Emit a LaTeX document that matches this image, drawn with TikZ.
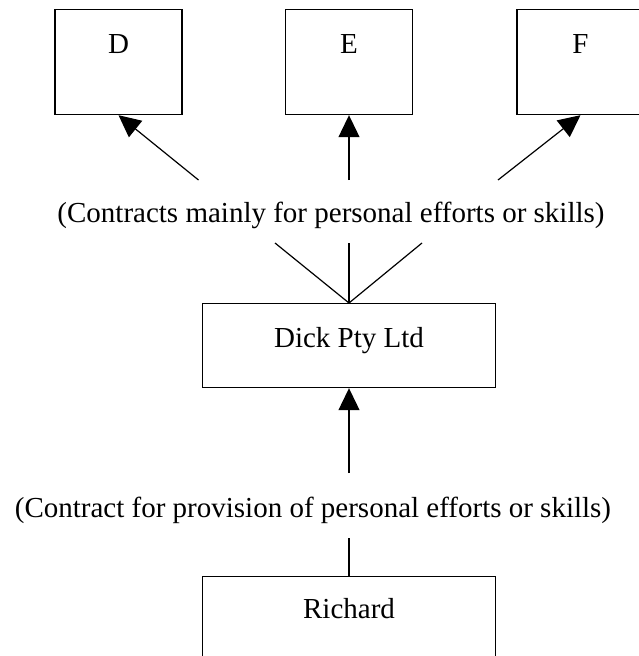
\documentclass[tikz,border=0pt]{standalone}
\usepackage{fontspec}
\setmainfont{Liberation Serif}
\usetikzlibrary{arrows.meta}

\begin{document}
\begin{tikzpicture}[x=1pt, y=-1pt,
  every node/.style={font=\fontsize{29}{34}\selectfont},
  party/.style={draw, line width=1.2pt, inner sep=0, anchor=north,
    minimum width=127pt, text height=44pt, text depth=61pt},
  firm/.style={party, minimum width=293pt},
  link/.style={line width=1.2pt},
  tip/.style={link, -{Triangle[length=22pt, width=21pt]}}]

\useasboundingbox (0,0) rectangle (638,656);

% clients
\node[party] (D) at (118.5,9) {D};
\node[party] (E) at (349,9) {E};
\node[party] (F) at (580.5,9) {F};

\node[anchor=base] (mainly) at (331,222)
  {(Contracts mainly for personal efforts or skills)};

\coordinate (toD) at (198.5,180);
\coordinate (toE) at (349,180);
\coordinate (toF) at (498,180);
\draw[tip] (toD) -- (D.south);
\draw[tip] (toE) -- (E.south);
\draw[tip] (toF) -- (F.south);

% company
\node[firm, text height=44pt, text depth=40pt] (dick) at (349,303) {Dick Pty Ltd};

\coordinate (fromD) at (275,243);
\coordinate (fromE) at (349,243);
\coordinate (fromF) at (422,243);
\draw[link] (fromD) -- (dick.north);
\draw[link] (fromE) -- (dick.north);
\draw[link] (fromF) -- (dick.north);

\node[anchor=base] (provision) at (313,517)
  {(Contract for provision of personal efforts or skills)};

\coordinate (up) at (349,473);
\draw[tip] (up) -- (dick.south);

% individual
\node[firm, text height=42pt, text depth=80pt] (richard) at (349,576) {Richard};

\coordinate (down) at (349,538);
\draw[link] (down) -- (richard.north);

\end{tikzpicture}
\end{document}
